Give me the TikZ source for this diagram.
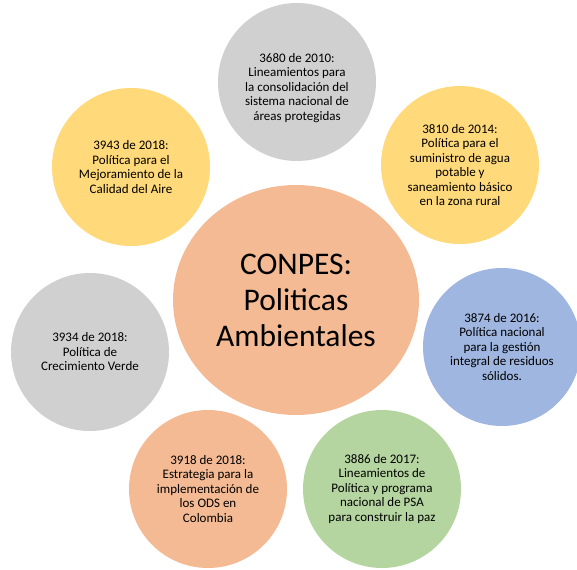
\documentclass[tikz,border=0pt]{standalone}
\usepackage{fontspec}
\setmainfont{Carlito}
\usetikzlibrary{shapes.geometric}
\definecolor{cgray}{HTML}{D0D0D0}
\definecolor{cyellow}{HTML}{FFD97A}
\definecolor{csalmon}{HTML}{F4BA94}
\definecolor{cblue}{HTML}{9FB6E0}
\definecolor{cgreen}{HTML}{B5D5A0}
\tikzset{
  bubble/.style={circle, draw=none, minimum size=158pt, inner sep=0pt,
    align=center, font=\fontsize{13}{14.5}\selectfont, text=black},
  hub/.style={ellipse, draw=none, minimum width=246pt, minimum height=230pt,
    inner sep=0pt, align=center, font=\fontsize{31.5}{36}\selectfont, text=black}
}
\begin{document}
\begin{tikzpicture}[x=1pt,y=-1pt]
\useasboundingbox (0,0) rectangle (577,569);
\node[hub, fill=csalmon] (hub) at (296,300) {CONPES:\\Politicas\\Ambientales};
\node[bubble, fill=cgray] (c3680) at (297,82) {};
\node[font=\fontsize{13}{14.5}\selectfont, align=center] (t3680) at (297,88) {3680 de 2010:\\Lineamientos para\\la consolidación del\\sistema nacional de\\áreas protegidas};
\node[bubble, fill=cyellow] (c3810) at (460,165) {3810 de 2014:\\Política para el\\suministro de agua\\potable y\\saneamiento básico\\en la zona rural};
\node[bubble, fill=cyellow] (c3943) at (131,167) {3943 de 2018:\\Política para el\\Mejoramiento de la\\Calidad del Aire};
\node[bubble, fill=cblue] (c3874) at (502,347) {3874 de 2016:\\Política nacional\\para la gestión\\integral de residuos\\sólidos.};
\node[bubble, fill=cgray] (c3934) at (90,352) {3934 de 2018:\\Política de\\Crecimiento Verde};
\node[bubble, fill=csalmon] (c3918) at (208,489) {3918 de 2018:\\Estrategia para la\\implementación de\\los ODS en\\Colombia};
\node[bubble, fill=cgreen] (c3886) at (382,489) {3886 de 2017:\\Lineamientos de\\Política y programa\\nacional de PSA\\para construir la paz};
\end{tikzpicture}
\end{document}
